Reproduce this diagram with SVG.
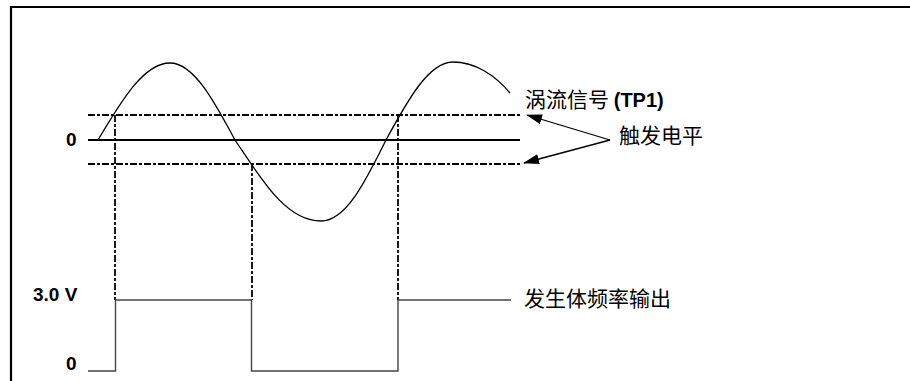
<svg xmlns="http://www.w3.org/2000/svg" width="910" height="381" viewBox="0 0 910 381">
<style>
.frame{fill:none;stroke:#000;stroke-width:2.2}
.dash{fill:none;stroke:#000;stroke-width:1.8;stroke-dasharray:7 2 3 2}
.solid{fill:none;stroke:#000;stroke-width:2}
.wave{fill:none;stroke:#000;stroke-width:1.3}
.sq{fill:none;stroke:#444;stroke-width:1.4}
.arr{fill:none;stroke:#000;stroke-width:1.3}
.lbl{font-family:"Liberation Sans",Arial,sans-serif;font-weight:bold;font-size:19px;fill:#000}
.cn{font-family:"Noto Sans CJK SC","Liberation Sans",sans-serif;font-size:21px;fill:#000}
.bold{font-family:"Liberation Sans",Arial,sans-serif;font-weight:bold;font-size:20px}
</style>
<defs>
<marker id="ah" viewBox="0 0 16 10" refX="15" refY="5" markerWidth="16" markerHeight="10" markerUnits="userSpaceOnUse" orient="auto">
<path d="M0,0 L16,5 L0,10 Z" fill="#000"/>
</marker>
</defs>
<path class="frame" d="M11,381 V7 H910"/>
<g id="levels">
<line class="dash" x1="88" y1="115" x2="520" y2="115"/>
<line class="solid" x1="88" y1="140" x2="520" y2="140"/>
<line class="dash" x1="88" y1="164" x2="520" y2="164"/>
</g>
<g id="eddy-signal">
<path class="wave" d="M98,140 C121.5,100.6 143.9,63 170,63 C193.5,63 213.8,100.6 235,140 C262,180 286,221 321,221 C345.8,221 365.5,181.5 386,140 C407.8,100 428.8,62 453,62 C475,62 495,75 510,93"/>
</g>
<g id="projections">
<line class="dash" x1="115" y1="115" x2="115" y2="300"/>
<line class="dash" x1="252" y1="164" x2="252" y2="300"/>
<line class="dash" x1="398" y1="115" x2="398" y2="300"/>
</g>
<g id="output-wave">
<path class="sq" d="M88,371 H115.5 V300 H251.5 V371 H398 V300 H511"/>
</g>
<g id="connectors">
<line class="arr" x1="610" y1="140" x2="527" y2="115" marker-end="url(#ah)"/>
<line class="arr" x1="610" y1="140" x2="524" y2="163" marker-end="url(#ah)"/>
</g>
<g id="labels">
<text class="lbl" x="66" y="146">0</text>
<text class="lbl" x="33" y="301">3.0 V</text>
<text class="lbl" x="66" y="370">0</text>
<text class="cn" x="525" y="107">涡流信号 <tspan class="bold">(TP1)</tspan></text>
<text class="cn" x="619" y="143">触发电平</text>
<text class="cn" x="524" y="306">发生体频率输出</text>
</g>
</svg>
